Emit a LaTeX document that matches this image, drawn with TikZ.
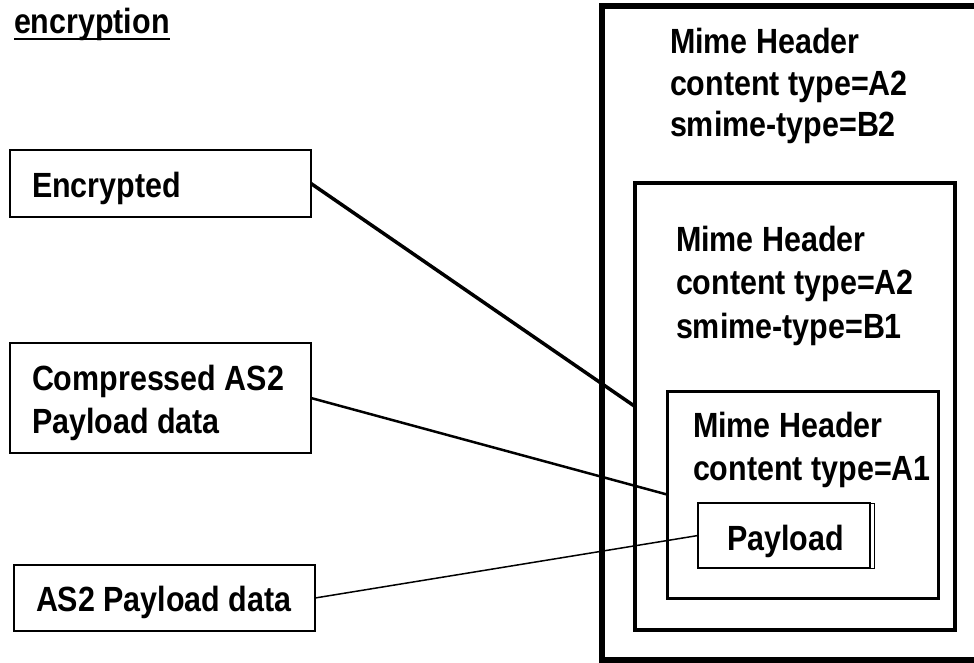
\documentclass[tikz,border=0pt]{standalone}
\usepackage{fontspec}
\setmainfont{Liberation Sans}[FakeStretch=0.87]
\begin{document}
\begin{tikzpicture}[x=1pt,y=-1pt,
  txt/.style={anchor=base west, inner sep=0pt, outer sep=0pt, font=\fontsize{35}{40}\selectfont\bfseries},
  lbox/.style={draw, line width=1.5pt, inner sep=0pt, outer sep=0pt},
  frame/.style={draw, inner sep=0pt, outer sep=0pt}]
\useasboundingbox (0,0) rectangle (974,662);
% left boxes
\node[lbox, minimum width=301pt, minimum height=67pt] (enc) at (160.5,183.5) {};
\node[lbox, minimum width=301pt, minimum height=110pt] (comp) at (160.5,398) {};
\node[lbox, minimum width=301pt, minimum height=66pt] (raw) at (164.5,598) {};
% nested boxes
\node[frame, line width=5.5pt, minimum width=388pt, minimum height=654pt] (outer) at (796,333) {};
\node[frame, line width=4.5pt, minimum width=320pt, minimum height=447pt] (mid) at (795,406.5) {};
\node[frame, line width=3pt, minimum width=271pt, minimum height=207pt] (inn) at (802.5,494.5) {};
\node[frame, line width=2pt, minimum width=172pt, minimum height=65pt] (pay) at (784,535.5) {};
\draw[line width=1pt] (pay.north east) -- ++(4.5,0) -- ++(0,65) -- ++(-4.5,0);
% connectors
\draw[line width=3.5pt] (enc.east) -- (mid.west);
\draw[line width=2.5pt] (comp.east) -- (inn.west);
\draw[line width=1.5pt] (raw.east) -- (pay.west);
% texts
\node[txt] (title) at (14,33) {encryption};
\draw[line width=2.5pt] ([yshift=-6pt]title.base west) -- ([yshift=-6pt]title.base east);
\node[txt] (tenc) at (32,197) {Encrypted};
\node[txt] (tcomp1) at (32,390) {Compressed AS2};
\node[txt] (tcomp2) at (32,433) {Payload data};
\node[txt] (traw) at (36,611) {AS2 Payload data};
\node[txt] (o1) at (670,53) {Mime Header};
\node[txt] (o2) at (670,95) {content type=A2};
\node[txt] (o3) at (670,136) {smime-type=B2};
\node[txt] (m1) at (676,251) {Mime Header};
\node[txt] (m2) at (676,294) {content type=A2};
\node[txt] (m3) at (676,338) {smime-type=B1};
\node[txt] (i1) at (693,437) {Mime Header};
\node[txt] (i2) at (693,480) {content type=A1};
\node[txt] (tpay) at (727,550) {Payload};
\end{tikzpicture}
\end{document}
